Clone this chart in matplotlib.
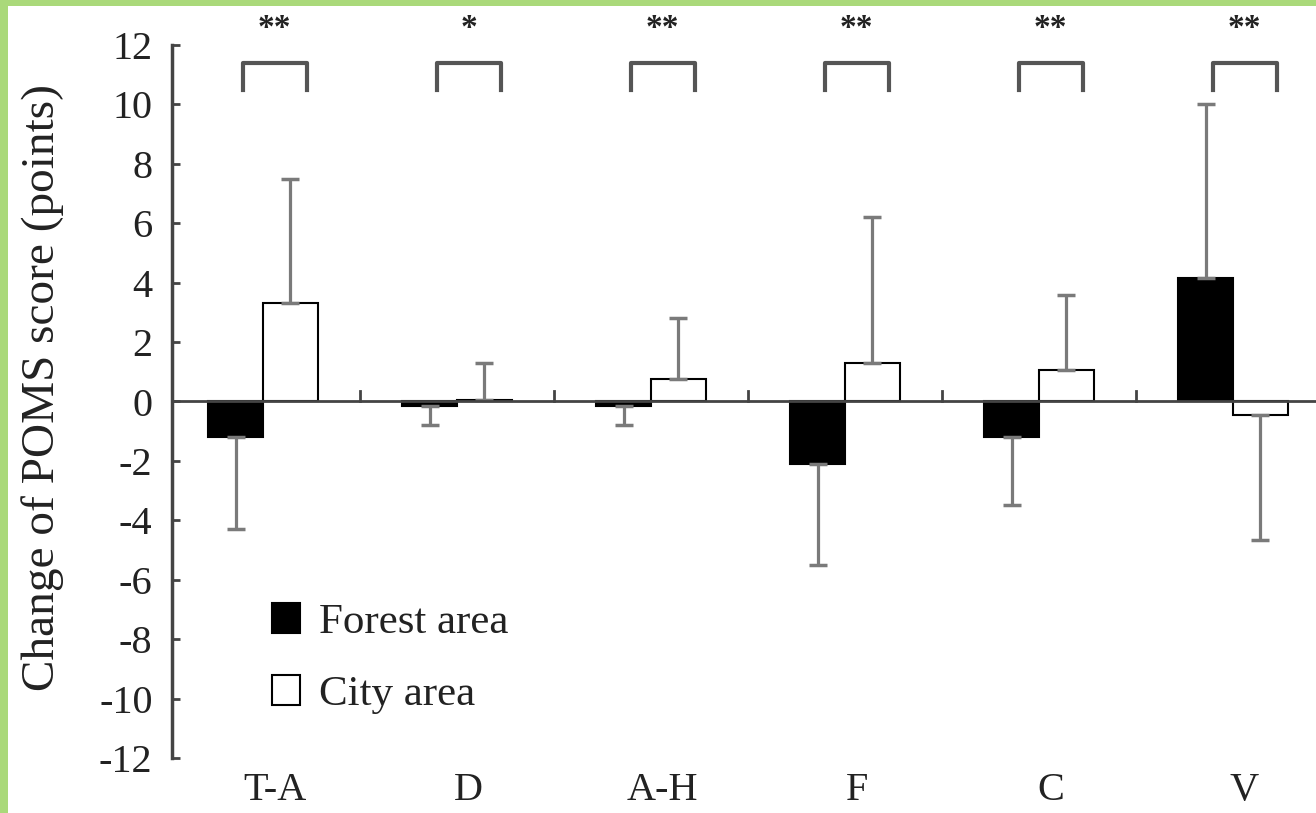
import numpy as np
import matplotlib
matplotlib.use("Agg")
import matplotlib.pyplot as plt

categories = ["T-A", "D", "A-H", "F", "C", "V"]
forest_values = [-1.2, -0.15, -0.15, -2.1, -1.2, 4.15]
forest_errors = [3.1, 0.65, 0.65, 3.4, 2.3, 5.85]
city_values = [3.3, 0.05, 0.75, 1.3, 1.05, -0.45]
city_errors = [4.2, 1.25, 2.05, 4.9, 2.55, 4.2]
significance = ["**", "*", "**", "**", "**", "**"]
y_ticks = list(range(-12, 13, 2))

plt.rcParams['font.family'] = ['Liberation Serif', 'DejaVu Serif']

fig = plt.figure(figsize=(13.16, 8.13), dpi=100)
fig.patch.set_facecolor('#aad97a')

bg = fig.add_axes([8/1316, 0, 1 - 8/1316, 1 - 6/813], zorder=-10)
bg.set_facecolor('white')
bg.set_xticks([]); bg.set_yticks([])
for sp in bg.spines.values():
    sp.set_visible(False)

ax = fig.add_axes([172/1316, 1 - 758/813, 1 - 172/1316, (758 - 45)/813])
ax.set_facecolor('none')

x = np.arange(len(categories))
w = 0.283
fv = np.array(forest_values); fe = np.array(forest_errors)
cv = np.array(city_values); ce = np.array(city_errors)

def one_sided(v, e):
    lower = np.where(v < 0, e, 0)
    upper = np.where(v >= 0, e, 0)
    return [lower, upper]

err_kw = dict(ecolor='#7a7a7a', elinewidth=2.3, capsize=6.5, capthick=2.5)
ax.bar(x - w/2, fv, w, color='black', edgecolor='black', linewidth=1.5,
       yerr=one_sided(fv, fe), error_kw=err_kw, label='Forest area', zorder=2)
ax.bar(x + w/2, cv, w, color='white', edgecolor='black', linewidth=1.5,
       yerr=one_sided(cv, ce), error_kw=err_kw, label='City area', zorder=2)

ax.axhline(0, color='#444444', lw=2, zorder=3)

# separator ticks on the zero line
for s in x[:-1] + 0.5:
    ax.plot([s, s], [0, 0.35], color='#444444', lw=2, zorder=3)

ax.set_xlim(-0.469, 5.428)
ax.set_ylim(-12, 12)
ax.set_yticks(y_ticks)
ax.set_yticklabels([str(t) for t in y_ticks], fontsize=29, color='#222222')
ax.tick_params(axis='y', direction='in', length=6, width=2, color='#444444', pad=14)
off = 0.06
ax.set_xticks(x + off)
ax.set_xticklabels(categories, fontsize=29, color='#222222')
ax.tick_params(axis='x', length=0, pad=10)
for sp in ['top', 'right', 'bottom']:
    ax.spines[sp].set_visible(False)
ax.spines['left'].set_linewidth(2.5)
ax.spines['left'].set_color('#444444')

ax.set_ylabel("Change of POMS score (points)", fontsize=34, color='#222222')
ax.yaxis.set_label_coords(-0.094, 0.519)

# significance brackets
hw = 0.165
for xi, s in zip(x, significance):
    cx = xi + off
    ax.plot([cx - hw, cx - hw, cx + hw, cx + hw], [10.5, 11.4, 11.4, 10.5],
            color='#555555', lw=3, solid_joinstyle='round', clip_on=False)
    ax.text(cx, 12.55, s, ha='center', va='center', fontsize=24, fontweight='bold',
            color='#222222', clip_on=False)

leg = ax.legend(loc='upper left', bbox_to_anchor=(0.0874, 0.217), frameon=False,
                borderpad=0, borderaxespad=0,
                fontsize=31, handlelength=0.65, handleheight=0.7, handletextpad=0.45,
                labelspacing=0.75)
for t in leg.get_texts():
    t.set_color('#222222')

fig.savefig("out.png", dpi=100, facecolor=fig.get_facecolor())
